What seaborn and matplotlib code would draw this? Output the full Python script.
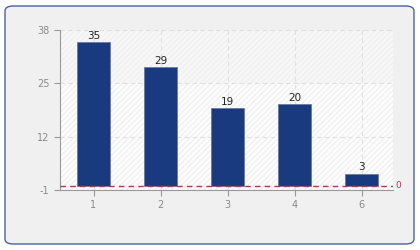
import matplotlib
matplotlib.use("Agg")
import matplotlib.pyplot as plt
from matplotlib.patches import FancyBboxPatch, Rectangle
import seaborn as sns
import pandas as pd

categories = ["1", "2", "3", "4", "6"]
values = [35, 29, 19, 20, 3]
yticks = [-1, 12, 25, 38]

sns.set_style("white")
plt.rcParams["font.family"] = ["DejaVu Sans"]

fig = plt.figure(figsize=(4.2, 2.5), dpi=100)
fig.patch.set_facecolor("white")
box = FancyBboxPatch((5 / 420, 6 / 250), 409 / 420, 238 / 250,
                     boxstyle="round,pad=0,rounding_size=0.02",
                     transform=fig.transFigure, facecolor="#f0f0f0",
                     edgecolor="#4a62a0", linewidth=1.0, zorder=-10)
fig.patches.append(box)

ax = fig.add_axes([60 / 420, 60 / 250, 333 / 420, 160 / 250])
ax.set_zorder(1)
ax.set_facecolor("#fdfdfd")

df = pd.DataFrame({"cat": categories, "val": values})
sns.barplot(data=df, x="cat", y="val", order=categories, color="#1a3a80",
            width=0.5, saturation=1, edgecolor="#6a7aa0", linewidth=0.6,
            ax=ax, zorder=3)

ax.set_ylim(-1, 38)
ax.set_xlim(-0.5, 4.47)

# background bands with hatch
ax.add_patch(Rectangle((-0.5, 25), 5, 13, facecolor="#f7f7f7", edgecolor="none", zorder=0))
ax.add_patch(Rectangle((-0.5, -1), 5, 39, facecolor="none", edgecolor="#f0f0f0",
                       hatch="//////", linewidth=0, zorder=0.5))

ax.set_yticks(yticks)
ax.set_yticklabels([str(t) for t in yticks])
ax.grid(True, axis="both", color="#e0e0e0", linestyle=(0, (4, 3)), linewidth=0.8, zorder=1)
ax.set_axisbelow(True)

for s in ["top", "right"]:
    ax.spines[s].set_visible(False)
for s in ["left", "bottom"]:
    ax.spines[s].set_color("#999999")
    ax.spines[s].set_linewidth(0.8)
ax.tick_params(axis="both", colors="#999999", labelcolor="#8a8a8a", labelsize=7,
               length=4, width=0.8, direction="out")
ax.tick_params(axis="both", which="both", bottom=True, left=True)
ax.set_xlabel("")
ax.set_ylabel("")

ax.axhline(0, color="#a04050", linestyle=(0, (4, 3)), linewidth=1.0, zorder=4)
ax.text(1.008, 0, "0", transform=ax.get_yaxis_transform(), color="#a04050",
        fontsize=6.5, va="center", ha="left")

for i, v in enumerate(values):
    ax.text(i, v + 0.3, str(v), ha="center", va="bottom", fontsize=7.5,
            color="#222222", zorder=5)

fig.savefig("out.png", dpi=100)
